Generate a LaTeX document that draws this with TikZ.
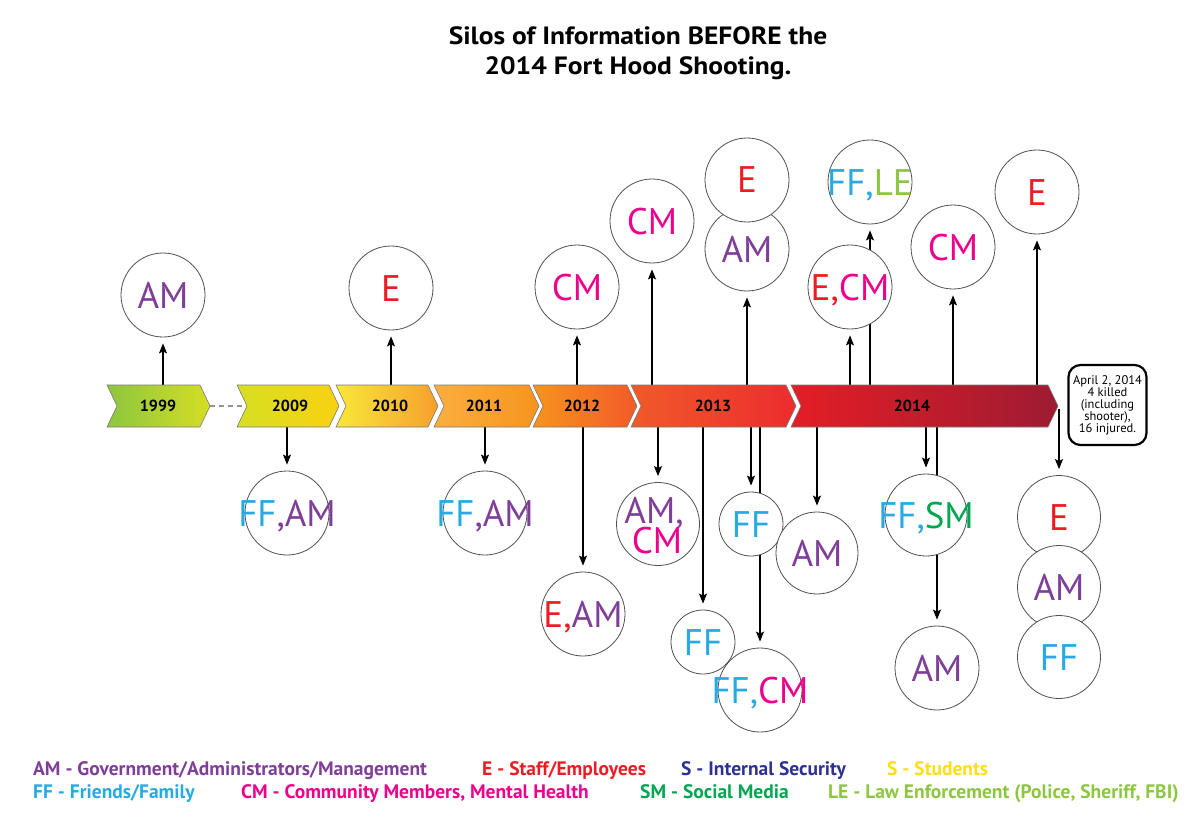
\documentclass[tikz,border=0pt]{standalone}
\usepackage{fontspec}
\setmainfont{PT Sans}
\usetikzlibrary{arrows.meta}
\pgfdeclarelayer{bg}
\pgfsetlayers{bg,main}
\definecolor{am}{HTML}{7F3F98}
\definecolor{ee}{HTML}{ED1C24}
\definecolor{cm}{HTML}{EC008C}
\definecolor{ff}{HTML}{27AAE1}
\definecolor{le}{HTML}{8DC63F}
\definecolor{sm}{HTML}{00A651}
\definecolor{is}{HTML}{2E3192}
\definecolor{st}{HTML}{FFDE17}
\definecolor{edge}{HTML}{7A7A7A}
\definecolor{ringc}{HTML}{505050}
\definecolor{g1}{HTML}{8DC63F}\definecolor{g2}{HTML}{D5DE24}
\definecolor{g3}{HTML}{D7DF23}\definecolor{g4}{HTML}{F8D110}
\definecolor{g5}{HTML}{F9E739}\definecolor{g6}{HTML}{F6A02D}
\definecolor{g7}{HTML}{FBAE40}\definecolor{g8}{HTML}{F7941D}
\definecolor{g9}{HTML}{F7941D}\definecolor{g10}{HTML}{F15A29}
\definecolor{g11}{HTML}{F15A29}\definecolor{g12}{HTML}{EC2C2E}
\definecolor{g13}{HTML}{E41E26}\definecolor{g14}{HTML}{9E1B32}
\tikzset{
  silo/.style={circle, draw=ringc, line width=0.8pt, fill=white, inner sep=0pt},
  lab/.style={inner sep=0pt, font=\fontsize{37}{30}\selectfont},
  arr/.style={draw=black, line width=1.3pt, -{Stealth[length=10pt,width=8pt,inset=2pt]}, shorten >=6pt},
  yr/.style={font=\bfseries\fontsize{16}{16}\selectfont, inner sep=0pt},
  leg/.style={anchor=base west, inner sep=0pt, font=\bfseries\fontsize{19.5}{20}\selectfont},
}
\newcommand\chev[6]{% name L R leftcol rightcol label-x
  \shadedraw[left color=#4, right color=#5, draw=edge, line width=0.6pt]
    (#2,385) -- (#3,385) -- (#3+10,406) -- (#3,427) -- (#2,427) -- (#2+10,406) -- cycle;
}
\newcommand\silo[5]{% name x y r text
  \node[silo, minimum size=#4*2pt] (#1) at (#2,#3) {};
  \node[lab, anchor=base] (#1t) at (#2,#3+13) {#5};
}
\newcommand\upar[3]{% name x target
  \coordinate (#1) at (#2,385);
  \draw[arr] (#1) -- (#3);
}
\newcommand\dnar[3]{% name x target
  \coordinate (#1) at (#2,427);
  \draw[arr] (#1) -- (#3);
}
\begin{document}
\begin{tikzpicture}[x=1pt,y=-1pt]
\useasboundingbox (0,0) rectangle (1200,824);

% title
\node[font=\bfseries\fontsize{25}{30}\selectfont, align=center, inner sep=0pt] (title) at (638,53)
  {\scalebox{1.1}[1]{Silos of Information BEFORE the}\\\scalebox{1.1}[1]{2014 Fort Hood Shooting.}};

% timeline bar
\chev{b1999}{107}{200}{g1}{g2}{}
\chev{b2009}{237}{329}{g3}{g4}{}
\chev{b2010}{336}{428}{g5}{g6}{}
\chev{b2011}{434}{529}{g7}{g8}{}
\chev{b2012}{533}{627}{g9}{g10}{}
\chev{b2013}{631}{786}{g11}{g12}{}
\chev{b2014}{791}{1048}{g13}{g14}{}
\node[yr] (y1999) at (158,406) {1999};
\node[yr] (y2009) at (290,406) {2009};
\node[yr] (y2010) at (390,406) {2010};
\node[yr] (y2011) at (484,406) {2011};
\node[yr] (y2012) at (582,406) {2012};
\node[yr] (y2013) at (713,406) {2013};
\node[yr] (y2014) at (912,406) {2014};
\coordinate (dash1) at (210,406);
\coordinate (dash2) at (246,406);
\draw[edge!80, line width=1.5pt, dash pattern=on 5pt off 4pt] (dash1) -- (dash2);

% box
\node[draw=black, line width=2.2pt, rounded corners=12pt, minimum width=78pt, minimum height=80pt,
  align=center, inner sep=0pt, font=\fontsize{12.5}{12}\selectfont] (box) at (1107.5,405)
  {April 2, 2014\\4 killed\\(including\\shooter),\\16 injured.};

% circles above
\silo{c1}{163}{295}{42}{\color{am}AM}
\silo{c2}{391}{288}{42}{\color{ee}E}
\silo{c3}{577}{287}{42}{\color{cm}CM}
\silo{c4}{652}{221}{42}{\color{cm}CM}
\silo{c5a}{747}{249}{42}{\color{am}AM}
\silo{c5b}{747}{180}{42}{\color{ee}E}
\silo{c6}{850}{287}{42}{\color{ee}E,\color{cm}CM}
\silo{c7}{870}{182}{42}{\color{ff}FF,\color{le}LE}
\silo{c8}{953}{247}{42}{\color{cm}CM}
\silo{c9}{1037}{192}{42}{\color{ee}E}

% circles below
\silo{d1}{287}{513}{42}{\color{ff}FF\color{am},AM}
\silo{d2}{485}{513}{42}{\color{ff}FF\color{am},AM}
\silo{d3}{583}{614}{42}{\color{ee}E,\color{am}AM}
\node[silo, minimum size=83pt] (d4) at (658,524) {};
\node[lab, anchor=base, text=am] (d4a) at (654,523) {AM,};
\node[lab, anchor=base, text=cm] (d4b) at (657,553) {CM};
\silo{d5}{703}{642}{32}{\color{ff}FF}
\silo{d6}{751}{524}{32}{\color{ff}FF}
\silo{d7}{760}{690}{42}{\color{ff}FF,\color{cm}CM}
\silo{d8}{817}{553}{41}{\color{am}AM}
\silo{d9}{926}{515}{41}{\color{ff}FF,\color{sm}SM}
\silo{d10}{937}{668}{42}{\color{am}AM}
\silo{d11}{1059}{517}{41.5}{\color{ee}E}
\silo{d12}{1059}{587}{41.5}{\color{am}AM}
\silo{d13}{1059}{657}{41.5}{\color{ff}FF}

% connectors
\begin{pgfonlayer}{bg}
\upar{u1}{163}{c1}
\upar{u2}{391}{c2}
\upar{u3}{577}{c3}
\upar{u4}{652}{c4}
\upar{u5}{747}{c5a}
\upar{u6}{850}{c6}
\upar{u7}{870}{c7}
\upar{u8}{953}{c8}
\upar{u9}{1037}{c9}
\dnar{l1}{287}{d1}
\dnar{l2}{485}{d2}
\dnar{l3}{583}{d3}
\dnar{l4}{658}{d4}
\dnar{l5}{703}{d5}
\dnar{l6}{751}{d6}
\dnar{l7}{760}{d7}
\dnar{l8}{817}{d8}
\dnar{l9}{926}{d9}
\dnar{l10}{937}{d10}
\coordinate (l11) at (1059,409);
\draw[arr] (l11) -- (d11);
\end{pgfonlayer}

% legend
\node[leg, text=am] (lam) at (33,775) {AM - Government/Administrators/Management};
\node[leg, text=ee] (lee) at (482,775) {E - Staff/Employees};
\node[leg, text=is] (lis) at (681,775) {S - Internal Security};
\node[leg, text=st] (lst) at (887,775) {S - Students};
\node[leg, text=ff] (lff) at (33,798) {FF - Friends/Family};
\node[leg, text=cm] (lcm) at (241,798) {CM - Community Members, Mental Health};
\node[leg, text=sm] (lsm) at (640,798) {SM - Social Media};
\node[leg, text=le] (lle) at (828,798) {LE - Law Enforcement (Police, Sheriff, FBI)};
\end{tikzpicture}
\end{document}
